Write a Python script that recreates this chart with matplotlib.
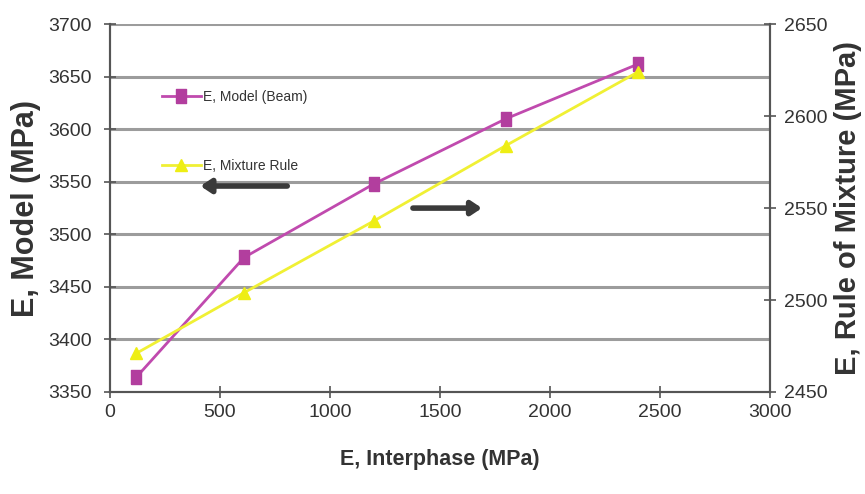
import matplotlib
matplotlib.use("Agg")
import matplotlib.pyplot as plt

# ---- data ----
x_interphase = [120, 610, 1200, 1800, 2400]
e_model = [3364, 3478, 3548, 3610, 3662]
e_mixture = [2471, 2504, 2543, 2584, 2624]
x_ticks = [0, 500, 1000, 1500, 2000, 2500, 3000]
left_ticks = [3350, 3400, 3450, 3500, 3550, 3600, 3650, 3700]
right_ticks = [2450, 2500, 2550, 2600, 2650]
label_model = "E, Model (Beam)"
label_mix = "E, Mixture Rule"

FAM = ['Liberation Sans', 'DejaVu Sans']
plt.rcParams['font.family'] = FAM
TXT = '#333333'

fig = plt.figure(figsize=(8.65, 4.94), dpi=100)
ax = fig.add_axes([0.127, 0.2065, 0.763, 0.7445])
ax2 = ax.twinx()

ax.set_xlim(0, 3000)
ax.set_ylim(3350, 3700)
ax2.set_ylim(2450, 2650)
ax.set_xticks(x_ticks)
ax.set_yticks(left_ticks)
ax2.set_yticks(right_ticks)

for v in left_ticks[1:]:
    ax.axhline(v, color='#9c9c9c', lw=2.2, zorder=0)

for s in ['left', 'right', 'bottom']:
    ax.spines[s].set_color('#555555')
    ax2.spines[s].set_color('#555555')
    ax.spines[s].set_linewidth(1.5)
    ax2.spines[s].set_linewidth(1.5)
ax.spines['top'].set_visible(False)
ax2.spines['top'].set_visible(False)

ax.tick_params(axis='x', direction='inout', length=8, width=1.2, color='#555555',
               labelsize=14, labelcolor=TXT, pad=5)
ax.tick_params(axis='y', direction='inout', length=8, width=1.2, color='#555555',
               labelsize=14, labelcolor=TXT, pad=9)
ax2.tick_params(axis='y', direction='inout', length=8, width=1.2, color='#555555',
                labelsize=14, labelcolor=TXT, pad=6)

rect = [(-0.36, -0.5), (0.36, -0.5), (0.36, 0.5), (-0.36, 0.5), (-0.36, -0.5)]
l1, = ax.plot(x_interphase, e_model, color='#C04AAE', lw=2, marker=rect,
              markersize=9.5, markerfacecolor='#B23E9E', markeredgecolor='#B23E9E',
              label=label_model, zorder=3)
l2, = ax2.plot(x_interphase, e_mixture, color='#F0F034', lw=2, marker='^',
               markersize=9, markerfacecolor='#EEEE14', markeredgecolor='#EEEE14',
               label=label_mix, zorder=4)

ax.set_xlabel("E, Interphase (MPa)", fontsize=15.5, fontweight='bold', color=TXT, labelpad=20)
ax.set_ylabel("E, Model (MPa)", fontsize=22, fontweight='bold', color=TXT, labelpad=5)
ax2.set_ylabel("E, Rule of Mixture (MPa)", fontsize=21, fontweight='bold', color=TXT, labelpad=5)

leg = ax2.legend(handles=[l1, l2], loc='upper left', bbox_to_anchor=(0.06, 0.855),
                 frameon=False, fontsize=10, labelspacing=3.95, handlelength=2.8,
                 handletextpad=0.15)
for t in leg.get_texts():
    t.set_color(TXT)

ax2.annotate('', xy=(0.133, 0.56), xytext=(0.273, 0.56), xycoords='axes fraction',
             arrowprops=dict(arrowstyle='-|>,head_length=0.6,head_width=0.4',
                             lw=4, color='#3a3a3a'))
ax2.annotate('', xy=(0.568, 0.50), xytext=(0.455, 0.50), xycoords='axes fraction',
             arrowprops=dict(arrowstyle='-|>,head_length=0.6,head_width=0.4',
                             lw=4, color='#3a3a3a'))

fig.savefig("out.png", dpi=100)
